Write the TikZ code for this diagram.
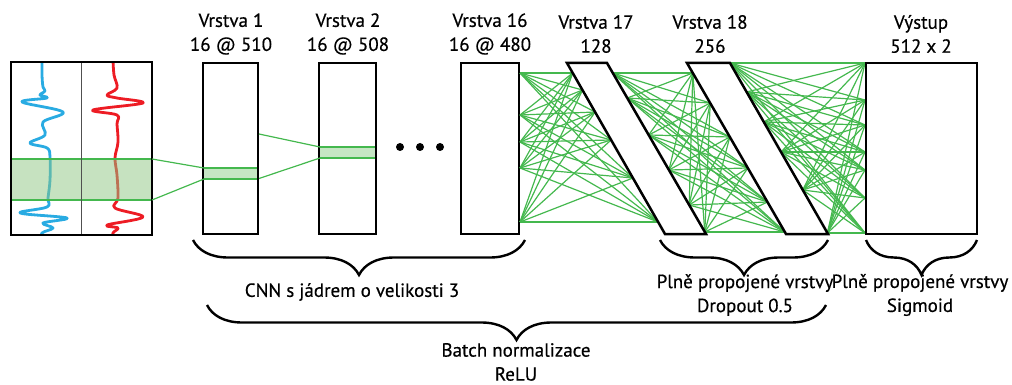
\documentclass[tikz,border=0pt]{standalone}
\usepackage{fontspec}
\setmainfont{PT Sans}
\newfontfamily\lblfont{PT Sans}[BoldFont={PT Sans}, BoldFeatures={FakeBold=0.5}]
\usetikzlibrary{decorations.pathreplacing}
\definecolor{gline}{RGB}{68,184,78}
\definecolor{gfill}{RGB}{141,198,130}
\definecolor{bandfill}{RGB}{198,230,196}
\definecolor{wblue}{RGB}{41,171,226}
\definecolor{wred}{RGB}{237,28,36}
\definecolor{divgray}{RGB}{80,80,80}
\begin{document}
\begin{tikzpicture}[x=1pt,y=-1pt,
  box/.style={draw=black, line width=2.5pt, fill=white, inner sep=0pt, outer sep=0pt},
  band/.style={fill=bandfill, draw=none, inner sep=0pt, outer sep=0pt},
  gl/.style={draw=gline, line width=2pt},
  conn/.style={draw=gline, line width=1.2pt},
  wave/.style={line width=2.8pt, line cap=round, line join=round},
  lbl/.style={font=\lblfont\bfseries\fontsize{19}{24}\selectfont, align=center, inner sep=0pt},
  bracestyle/.style={draw=black, line width=2.4pt, decorate, decoration={brace, amplitude=35pt}}
]
\useasboundingbox (0,0) rectangle (1012,385);

% ---------- input panel ----------
\begin{scope}
\clip (11,62) rectangle (152,235);
\draw[wave, wblue] plot[smooth, tension=0.6] coordinates {
 (42,60) (42,75) (43,87) (45,91) (40,95) (47,98) (22,102) (63,112) (43,122)
 (45,135) (30,143) (47,148) (50,157) (50,180) (48,198) (47,207) (20,213)
 (67,218) (43,223) (53,228) (42,233) (42,240)};
\draw[wave, wred] plot[smooth, tension=0.6] coordinates {
 (113,60) (114,75) (117,88) (107,95) (117,98) (143,103) (93,110) (117,115)
 (117,124) (118,142) (115,158) (117,175) (118,198) (115,208) (143,217)
 (107,225) (118,228) (113,233) (113,240)};
\end{scope}
\node[band, fill=gfill, fill opacity=0.5, minimum width=141pt, minimum height=41pt] (ib) at (81.5,179.5) {};
\draw[gl] (ib.north west) -- (ib.north east);
\draw[gl] (ib.south west) -- (ib.south east);
\coordinate (dtop) at (81.5,62);
\coordinate (dbot) at (81.5,235);
\draw[divgray, line width=1.5pt] (dtop) -- (dbot);
\node[box, fill=none, minimum width=141pt, minimum height=173pt] (inp) at (81.5,148.5) {};

% ---------- convolution layers ----------
\node[box, minimum width=55pt, minimum height=171pt] (l1) at (230.5,148.5) {};
\node[box, minimum width=57pt, minimum height=171pt] (l2) at (347.5,148.5) {};
\node[box, minimum width=58pt, minimum height=171pt] (l16) at (490,148.5) {};

\node[band, minimum width=53pt, minimum height=11pt] (b1) at (230.5,173.5) {};
\draw[gl] (b1.north west) -- (b1.north east);
\draw[gl] (b1.south west) -- (b1.south east);
\node[band, minimum width=55pt, minimum height=11pt] (b2) at (347.5,152.5) {};
\draw[gl] (b2.north west) -- (b2.north east);
\draw[gl] (b2.south west) -- (b2.south east);

\coordinate (l1r) at (259,134);
\coordinate (l1s) at (259,178.5);
\draw[conn] (ib.north east) -- (b1.north west);
\draw[conn] (ib.south east) -- (b1.south west);
\draw[conn] (l1r) -- (b2.north west);
\draw[conn] (l1s) -- (b2.south west);

\foreach \n/\x in {d1/400, d2/420, d3/440}
  \node[circle, fill=black, inner sep=0pt, minimum size=8pt] (\n) at (\x,147) {};

% ---------- dense connection points ----------
\foreach \n/\y in {1/73, 2/115, 3/142, 4/168, 5/222}
  \coordinate (a\n) at (520,\y);
\coordinate (b1p) at (572.7,73);
\coordinate (b2p) at (582.5,90);
\coordinate (b3p) at (595.1,112);
\coordinate (b4p) at (611.1,140);
\coordinate (b5p) at (632.9,178);
\coordinate (b6p) at (658.1,222);

\coordinate (c1) at (612.8,73);
\coordinate (c2) at (627.3,98);
\coordinate (c3) at (648.7,135);
\coordinate (c4) at (668.9,170);
\coordinate (c5) at (689.2,205);
\coordinate (c6) at (704.8,232);

\coordinate (e1) at (692.8,73);
\coordinate (e2) at (710.2,103);
\coordinate (e3) at (729.8,137);
\coordinate (e4) at (747.8,168);
\coordinate (e5) at (767.5,202);
\coordinate (e6) at (784.8,232);

\coordinate (f1) at (730,63);
\coordinate (f2) at (746.6,92);
\coordinate (f3) at (763.8,122);
\coordinate (f4) at (781.0,152);
\coordinate (f5) at (802.8,190);
\coordinate (f6) at (827.4,233);

\foreach \n/\y in {1/63, 2/100, 3/125, 4/152, 5/170, 6/198, 7/233}
  \coordinate (g\n) at (865,\y);

\foreach \i in {1,...,5}
  \foreach \j in {1,...,6}
    \draw[conn] (a\i) -- (b\j p);
\foreach \i in {1,...,6}
  \foreach \j in {1,...,6}
    \draw[conn] (c\i) -- (e\j);
\foreach \i in {1,...,6}
  \foreach \j in {1,...,7}
    \draw[conn] (f\i) -- (g\j);

% ---------- dense layers ----------
\coordinate (p17a) at (567,63);
\coordinate (p17b) at (607,63);
\coordinate (p17c) at (706,234);
\coordinate (p17d) at (665,234);
\draw[box, line join=miter] (p17a) -- (p17b) -- (p17c) -- (p17d) -- cycle;
\coordinate (p18a) at (687,63);
\coordinate (p18b) at (730,63);
\coordinate (p18c) at (828,234);
\coordinate (p18d) at (786,234);
\draw[box, line join=miter] (p18a) -- (p18b) -- (p18c) -- (p18d) -- cycle;

\node[box, minimum width=111pt, minimum height=171pt] (out) at (921.5,148.5) {};

% ---------- top labels ----------
\node[lbl] (t1) at (231,34) {Vrstva 1\\16 @ 510};
\node[lbl] (t2) at (348,34) {Vrstva 2\\16 @ 508};
\node[lbl] (t16) at (490,34) {Vrstva 16\\16 @ 480};
\node[lbl] (t17) at (596,34) {Vrstva 17\\128};
\node[lbl] (t18) at (710,34) {Vrstva 18\\256};
\node[lbl] (tout) at (921,34) {Výstup\\512 x 2};

% ---------- braces ----------
\draw[bracestyle] (525,240) -- (193,240);
\draw[bracestyle] (828,240) -- (660,240);
\draw[bracestyle] (977,240) -- (866,240);
\draw[bracestyle] (826,305) -- (207,305);

\node[lbl] (cnn) at (352,292) {CNN s jádrem o velikosti 3};
\node[lbl] (fc1) at (745,295) {Plně propojené vrstvy\\Dropout 0.5};
\node[lbl] (fc2) at (920,295) {Plně propojené vrstvy\\Sigmoid};
\node[lbl] (bn) at (516,362) {Batch normalizace\\ReLU};
\end{tikzpicture}
\end{document}
